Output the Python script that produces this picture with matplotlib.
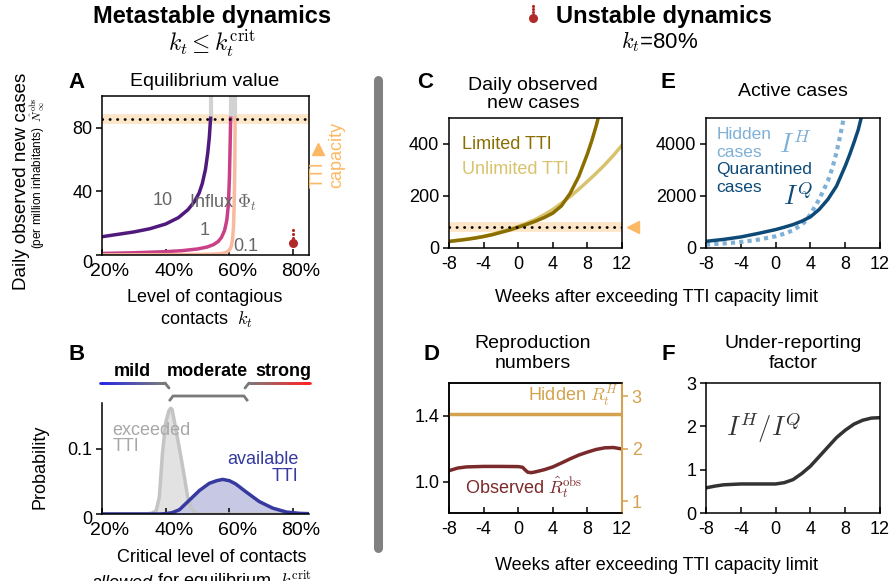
import numpy as np
import matplotlib.pyplot as plt
from matplotlib.collections import LineCollection
from matplotlib.transforms import ScaledTranslation
import matplotlib.colors as mcolors

plt.rcParams['font.family'] = ['Liberation Sans', 'DejaVu Sans']
plt.rcParams['mathtext.fontset'] = 'cm'
plt.rcParams['axes.linewidth'] = 1.1
plt.rcParams['axes.unicode_minus'] = False

W, H = 895, 581

# ---------------- data ----------------
# A: equilibrium value vs level of contagious contacts, for influx 10 / 1 / 0.1
k_phi10 = [0.20, 0.25, 0.30, 0.35, 0.40, 0.44, 0.47, 0.49, 0.505, 0.515, 0.525, 0.532, 0.537, 0.541]
n_phi10 = [11.5, 13.0, 14.5, 16.5, 19.5, 23.5, 28.5, 33.5, 39.0, 45.0, 54.0, 64.0, 74.0, 86.0]
k_phi1 = [0.20, 0.30, 0.40, 0.45, 0.50, 0.53, 0.55, 0.565, 0.575, 0.585, 0.592, 0.597, 0.600, 0.602, 0.604]
n_phi1 = [1.0, 1.4, 2.1, 2.7, 3.8, 5.0, 6.5, 8.5, 11.0, 15.5, 22.0, 32.0, 48.0, 66.0, 86.0]
k_phi01 = [0.20, 0.40, 0.50, 0.55, 0.575, 0.590, 0.600, 0.606, 0.610, 0.613, 0.615, 0.617, 0.618]
n_phi01 = [0.1, 0.2, 0.35, 0.55, 0.9, 1.6, 3.0, 5.5, 10.0, 18.0, 32.0, 55.0, 86.0]
k_diverge = [0.541, 0.604, 0.618]
tti_cap_A = 85.5
k_unstable = 0.8
n_unstable = 7.5

# B: distribution of critical level of contacts
kc_exceeded = [0.20, 0.33, 0.355, 0.37, 0.38, 0.39, 0.40, 0.41, 0.416, 0.42, 0.432, 0.448, 0.459, 0.469, 0.48, 0.495, 0.52, 0.85]
p_exceeded = [0, 0, 0.001, 0.005, 0.026, 0.094, 0.14, 0.158, 0.162, 0.16, 0.13, 0.087, 0.056, 0.026, 0.009, 0.001, 0, 0]
kc_available = [0.20, 0.38, 0.40, 0.42, 0.443, 0.474, 0.506, 0.537, 0.56, 0.579, 0.60, 0.62, 0.652, 0.694, 0.736, 0.779, 0.82, 0.85]
p_available = [0, 0, 0.0005, 0.002, 0.0065, 0.021, 0.036, 0.047, 0.051, 0.053, 0.051, 0.046, 0.034, 0.019, 0.009, 0.003, 0.001, 0.0005]

# C: daily observed new cases
weeks_lim = [-8, -7, -6, -5, -4, -3, -2, -1, 0, 1, 2, 3, 4, 5, 6, 7, 8, 8.5, 9, 9.25]
new_limited = [25, 29, 33, 38, 44, 51, 60, 69, 80, 91, 103, 117, 134, 162, 210, 275, 362, 412, 468, 500]
weeks_unl = [-8, -7, -6, -5, -4, -3, -2, -1, 0, 1, 2, 3, 4, 5, 6, 7, 8, 9, 10, 11, 12]
new_unlimited = [26, 30, 34, 39, 45, 53, 62, 72, 83, 96, 110, 128, 148, 172, 198, 226, 256, 287, 320, 356, 395]
tti_cap_C = 82

# E: active cases
weeks_q = [-8, -6, -4, -2, 0, 1, 2, 3, 4, 5, 6, 7, 8, 8.5, 9, 9.5, 9.8]
quarantined = [257, 330, 425, 560, 708, 800, 900, 1030, 1197, 1480, 1866, 2380, 3150, 3580, 4050, 4550, 4950]
weeks_h = [-8, -6, -4, -2, 0, 1, 2, 3, 3.5, 4, 5, 6, 6.5, 7, 7.5, 7.8]
hidden = [130, 175, 230, 320, 450, 550, 680, 900, 1050, 1300, 1866, 2570, 3050, 3670, 4440, 4950]

# D: reproduction numbers
weeks_r = [-8, -7, -6, -4, -2, 0, 0.5, 0.8, 1.1, 1.5, 2, 3, 4, 5, 6, 7, 8, 9, 10, 11, 12]
r_observed = [1.067, 1.083, 1.09, 1.093, 1.093, 1.092, 1.088, 1.072, 1.058, 1.055, 1.06, 1.073, 1.09,
              1.114, 1.139, 1.162, 1.18, 1.196, 1.206, 1.208, 1.199]
r_hidden = 2.66

# F: under-reporting factor
weeks_f = [-8, -7, -6, -5, -4, -3, -2, -1, 0, 1, 2, 3, 4, 5, 6, 7, 8, 9, 10, 11, 12]
under_rep = [0.58, 0.62, 0.65, 0.66, 0.67, 0.67, 0.67, 0.67, 0.67, 0.70, 0.77, 0.91, 1.08, 1.30, 1.52,
             1.74, 1.91, 2.05, 2.14, 2.19, 2.20]

week_ticks = [-8, -4, 0, 4, 8, 12]
pct_ticks = [0.2, 0.4, 0.6, 0.8]
pct_labels = ['20%', '40%', '60%', '80%']

# colours
c_phi10, c_phi1, c_phi01 = '#50197d', '#c94088', '#f8b99e'
c_red = '#b22a2a'
c_orange = '#fdb863'
c_band = '#fde6c8'
c_lim, c_unl = '#8a6f00', '#d8c36c'
c_q, c_h = '#0d4a78', '#7fb0d6'
c_gold = '#d4a24e'
c_obs = '#7a2a2a'
c_blue = '#3639a0'

TS = 13  # tick label size

fig = plt.figure(figsize=(8.95, 5.81), dpi=100)


def box(l, t, r, b):
    return [l / W, 1 - b / H, (r - l) / W, (b - t) / H]


def style(ax, xs=TS):
    ax.tick_params(axis='x', direction='in', length=4, width=1.1, labelsize=xs, pad=6)
    ax.tick_params(axis='y', direction='out', length=4, width=1.1, labelsize=TS, pad=3)


def shift(labels, dx, dy):
    for lab in labels:
        lab.set_transform(lab.get_transform() + ScaledTranslation(dx / 100, -dy / 100, fig.dpi_scale_trans))


# ---------------- A ----------------
axA = fig.add_axes(box(102, 96, 309, 255))
axA.axhline(tti_cap_A, color=c_band, lw=7, zorder=1)
for kk in k_diverge:
    axA.plot([kk, kk], [tti_cap_A, 100], color='#d2d2d2', lw=3, zorder=1.5)
axA.plot(k_phi10, n_phi10, color=c_phi10, lw=2.5, zorder=2)
axA.plot(k_phi1, n_phi1, color=c_phi1, lw=2.5, zorder=2)
axA.plot(k_phi01, n_phi01, color=c_phi01, lw=2.5, zorder=2)
axA.axhline(tti_cap_A, color='k', lw=2, ls=(0, (0.1, 2.6)), dash_capstyle='round', zorder=3)
axA.plot(k_unstable, n_unstable, 'o', color=c_red, ms=5.5, zorder=4)
axA.plot([k_unstable] * 3, [n_unstable + 3.5, n_unstable + 6, n_unstable + 8.5], '.', color=c_red, ms=2.5)
axA.text(0.39, 34, '10', color='#666666', fontsize=TS, ha='center', va='center')
axA.text(0.58, 33, r'Influx $\Phi_t$', color='#666666', fontsize=TS, ha='center', va='center')
axA.text(0.522, 15.5, '1', color='#666666', fontsize=TS, ha='center', va='center')
axA.text(0.65, 5.2, '0.1', color='#666666', fontsize=TS, ha='center', va='center')
axA.set_xlim(0.2, 0.85)
axA.set_ylim(0, 100)
axA.set_xticks(pct_ticks, pct_labels)
axA.set_yticks([0, 40, 80])
style(axA, 14)
shift(axA.get_xticklabels(), 8, 0)
shift(axA.get_yticklabels()[:1], 0, 6)

# ---------------- B ----------------
axB = fig.add_axes(box(102, 403, 309, 514))
axB.fill_between(kc_exceeded, p_exceeded, color='#e2e2e2', lw=0)
axB.plot(kc_exceeded, p_exceeded, color='#c4c4c4', lw=2.5)
axB.fill_between(kc_available, p_available, color='#c6c8e4', lw=0)
axB.plot(kc_available, p_available, color=c_blue, lw=2.5)
axB.text(0.233, 0.141, 'exceeded\nTTI', color='#a8a8a8', fontsize=TS, ha='left', va='top', linespacing=0.95)
axB.text(0.818, 0.096, 'available\nTTI', color=c_blue, fontsize=TS, ha='right', va='top',
         multialignment='right', linespacing=0.95)
axB.set_xlim(0.2, 0.85)
axB.set_ylim(0, 0.17)
axB.set_xticks(pct_ticks, pct_labels)
axB.set_yticks([0, 0.1], ['0', '0.1'])
for s in ['top', 'right']:
    axB.spines[s].set_visible(False)
style(axB, 14)
shift(axB.get_xticklabels(), 8, 0)
shift(axB.get_yticklabels()[:1], 0, 4)

# ---------------- C ----------------
axC = fig.add_axes(box(449, 118, 622, 248))
axC.axhline(tti_cap_C, color=c_band, lw=7, zorder=1)
axC.plot(weeks_unl, new_unlimited, color=c_unl, lw=2.5, zorder=2)
axC.plot(weeks_lim, new_limited, color=c_lim, lw=2.5, zorder=2)
axC.axhline(tti_cap_C, color='k', lw=2, ls=(0, (0.1, 2.6)), dash_capstyle='round', zorder=3)
axC.plot(13.3, tti_cap_C, marker='<', color=c_orange, ms=9, clip_on=False)
axC.text(-6.5, 397, 'Limited TTI', color=c_lim, fontsize=TS, va='center')
axC.text(-6.5, 300, 'Unlimited TTI', color=c_unl, fontsize=TS, va='center')
axC.set_xlim(-8, 12)
axC.set_ylim(0, 500)
axC.set_xticks(week_ticks)
axC.set_yticks([0, 200, 400])
style(axC)

# ---------------- E ----------------
axE = fig.add_axes(box(706, 118, 880, 248))
axE.plot(weeks_h, hidden, color=c_h, lw=3, ls=(0, (1, 1)))
axE.plot(weeks_q, quarantined, color=c_q, lw=2.5)
axE.text(-6.8, 4360, 'Hidden', color=c_h, fontsize=12.5, va='center')
axE.text(-6.8, 3660, 'cases', color=c_h, fontsize=12.5, va='center')
axE.text(2.3, 4000, r'$I^H$', color=c_h, fontsize=19, ha='center', va='center')
axE.text(-6.8, 3030, 'Quarantined', color=c_q, fontsize=12.5, va='center')
axE.text(-6.8, 2330, 'cases', color=c_q, fontsize=12.5, va='center')
axE.text(2.6, 2000, r'$I^Q$', color=c_q, fontsize=19, ha='center', va='center')
axE.set_xlim(-8, 12)
axE.set_ylim(0, 5000)
axE.set_xticks(week_ticks)
axE.set_yticks([0, 2000, 4000])
style(axE)

# ---------------- D ----------------
axD = fig.add_axes(box(449, 383, 622, 513))
axD2 = axD.twinx()
axD2.axhline(r_hidden, color=c_gold, lw=2.5)
axD.plot(weeks_r, r_observed, color=c_obs, lw=2.5)
axD.text(11.6, 1.52, r'Hidden $R_t^H$', color=c_gold, fontsize=TS, ha='right', va='center')
axD.text(-6.2, 0.965, r'Observed $\hat{R}_t^{\mathrm{obs}}$', color=c_obs, fontsize=TS, ha='left', va='center')
axD.set_xlim(-8, 12)
axD.set_ylim(0.81, 1.6)
axD.set_xticks(week_ticks)
axD.set_yticks([1.0, 1.4], ['1.0', '1.4'])
axD2.set_ylim(0.78, 3.25)
axD2.set_yticks([1, 2, 3])
style(axD)
axD2.tick_params(axis='y', direction='out', length=4, width=1.1, labelsize=TS, pad=3,
                 colors=c_gold)
axD2.spines['right'].set_color(c_gold)
axD2.spines['right'].set_linewidth(1.5)

# ---------------- F ----------------
axF = fig.add_axes(box(706, 383, 880, 513))
axF.plot(weeks_f, under_rep, color='#333333', lw=2.5)
axF.text(-1.4, 1.97, r'$I^H/I^Q$', color='#333333', fontsize=19, ha='center', va='center')
axF.set_xlim(-8, 12)
axF.set_ylim(0, 3)
axF.set_xticks(week_ticks)
axF.set_yticks([0, 1, 2, 3])
style(axF)

# ---------------- overlay: texts, separators, brackets ----------------
ov = fig.add_axes([0, 0, 1, 1])
ov.set_xlim(0, W)
ov.set_ylim(H, 0)
ov.axis('off')

ov.text(212, 23, 'Metastable dynamics', fontsize=17, weight='bold', ha='center', va='baseline')
ov.text(212, 43, r'$k_t \leq k_t^{\mathrm{crit}}$', fontsize=17, ha='center', va='center')
ov.text(664, 23, 'Unstable dynamics', fontsize=17, weight='bold', ha='center', va='baseline')
ov.text(660, 42, r'$k_t$=80%', fontsize=16, ha='center', va='center')
ov.plot(533, 18, 'o', color=c_red, ms=5.5)
ov.plot([533, 533, 533], [12, 9, 6], '.', color=c_red, ms=2.5)

ov.plot([378.5, 378.5], [80, 548], color='#808080', lw=6.5, solid_capstyle='round')

for lab, x, y in [('A', 77, 82), ('B', 77, 355), ('C', 425, 82), ('E', 668, 82), ('D', 432, 355), ('F', 668, 355)]:
    ov.text(x, y, lab, fontsize=16, weight='bold', ha='center', va='center')

TT = 14
ov.text(205, 82, 'Equilibrium value', fontsize=TT, ha='center', va='center')
ov.text(533, 86, 'Daily observed', fontsize=TT, ha='center', va='center')
ov.text(533, 103, 'new cases', fontsize=TT, ha='center', va='center')
ov.text(793, 91, 'Active cases', fontsize=TT, ha='center', va='center')
ov.text(533, 343, 'Reproduction', fontsize=TT, ha='center', va='center')
ov.text(533, 364, 'numbers', fontsize=TT, ha='center', va='center')
ov.text(793, 343, 'Under-reporting', fontsize=TT, ha='center', va='center')
ov.text(793, 364, 'factor', fontsize=TT, ha='center', va='center')

ov.text(22, 181, 'Daily observed new cases', fontsize=13.5, rotation=90, ha='center', va='center')
ov.text(38, 173, r'(per million inhabitants)  $\hat{N}_{\infty}^{\mathrm{obs}}$', fontsize=8.5,
        rotation=90, ha='center', va='center')
ov.text(40, 467, 'Probability', fontsize=13, rotation=90, ha='center', va='center')

ov.text(205, 298, 'Level of contagious', fontsize=13, ha='center', va='center')
ov.text(206, 320, r'contacts  $k_t$', fontsize=13, ha='center', va='center')
ov.text(212, 558, 'Critical level of contacts', fontsize=13, ha='center', va='center')
ov.text(153, 588, 'allowed', fontsize=13, style='italic', ha='right', va='baseline')
ov.text(157, 588, r'for equilibrium  $k_t^{\mathrm{crit}}$', fontsize=13, ha='left', va='baseline')
ov.text(657, 298, 'Weeks after exceeding TTI capacity limit', fontsize=13, ha='center', va='center')
ov.text(657, 566, 'Weeks after exceeding TTI capacity limit', fontsize=13, ha='center', va='center')

# TTI capacity label beside A
ov.text(318, 188, 'TTI', fontsize=13, color=c_orange, rotation=90, ha='center', va='bottom')
ov.text(337, 188, 'capacity', fontsize=13, color=c_orange, rotation=90, ha='center', va='bottom')
ov.plot(318, 149, marker='^', color=c_orange, ms=9)


# mild / moderate / strong annotations above B
def grad_line(xs, ys, c0, c1, lw=2):
    pts = np.column_stack([xs, ys])
    segs = np.stack([pts[:-1], pts[1:]], axis=1)
    cmap = mcolors.LinearSegmentedColormap.from_list('g', [c0, c1])
    cols = cmap(np.linspace(0, 1, len(segs)))
    ov.add_collection(LineCollection(segs, colors=cols, linewidths=lw, capstyle='round'))


gx = np.linspace(100, 165, 40)
grad_line(np.append(gx, 169), np.append(np.full(40, 383.0), 388), '#2424e6', '#7a7a7a')
gx = np.linspace(249, 310, 40)
grad_line(np.insert(gx, 0, 245), np.insert(np.full(40, 383.0), 0, 388), '#7a7a7a', '#ff2222')
ov.plot([170, 173, 244, 247], [400, 396, 396, 400], color='#7a7a7a', lw=2)
ov.text(132, 372, 'mild', fontsize=13, weight='bold', ha='center', va='center')
ov.text(207, 372, 'moderate', fontsize=13, weight='bold', ha='center', va='center')
ov.text(283, 372, 'strong', fontsize=13, weight='bold', ha='center', va='center')

fig.savefig('out.png', dpi=100)
